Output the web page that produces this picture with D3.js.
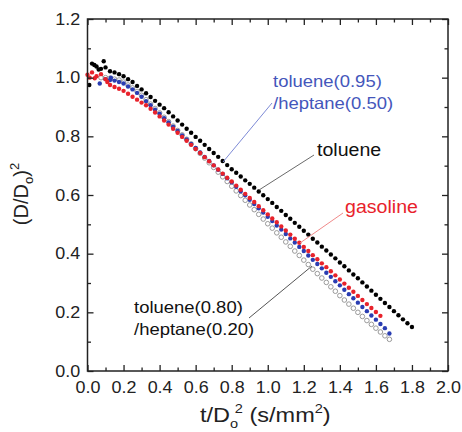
<!DOCTYPE html>
<html>
<head>
<meta charset="utf-8">
<script src="https://cdn.jsdelivr.net/npm/d3@7"></script>
<style>
  html, body { margin: 0; padding: 0; background: #fff; }
  svg { display: block; font-family: "Liberation Sans", Arial, sans-serif; }
</style>
</head>
<body>
<svg id="chart" width="462" height="432"></svg>
<script>
// Normalised time t/Do^2 (s/mm^2), shared sampling grid for all fuels
const tGrid = [
  0.000, 0.025, 0.050, 0.075, 0.100, 0.125, 0.150, 0.175, 0.200, 0.225,
  0.250, 0.275, 0.300, 0.325, 0.350, 0.375, 0.400, 0.425, 0.450, 0.475,
  0.500, 0.525, 0.550, 0.575, 0.600, 0.625, 0.650, 0.675, 0.700, 0.725,
  0.750, 0.775, 0.800, 0.825, 0.850, 0.875, 0.900, 0.925, 0.950, 0.975,
  1.000, 1.025, 1.050, 1.075, 1.100, 1.125, 1.150, 1.175, 1.200, 1.225,
  1.250, 1.275, 1.300, 1.325, 1.350, 1.375, 1.400, 1.425, 1.450, 1.475,
  1.500, 1.525, 1.550, 1.575, 1.600, 1.625, 1.650, 1.675, 1.700, 1.725,
  1.750, 1.775, 1.800
];

// (D/Do)^2 for each fuel on the grid above (null = no sample)
const toluene = [
  null, 1.048, 1.038, 1.030, 1.035, 1.022, 1.018, 1.012, 1.005, 0.995,
  0.985, 0.972, 0.960, 0.947, 0.934, 0.921, 0.908, 0.896, 0.882, 0.868,
  0.854, 0.840, 0.826, 0.812, 0.798, 0.785, 0.771, 0.757, 0.743, 0.730,
  0.716, 0.702, 0.688, 0.676, 0.663, 0.650, 0.638, 0.625, 0.612, 0.599,
  0.586, 0.573, 0.559, 0.546, 0.532, 0.519, 0.505, 0.492, 0.478, 0.465,
  0.451, 0.438, 0.424, 0.411, 0.397, 0.384, 0.370, 0.357, 0.343, 0.329,
  0.316, 0.302, 0.288, 0.274, 0.260, 0.246, 0.232, 0.218, 0.204, 0.190,
  0.176, 0.163, 0.150
];
const gasoline = [
  1.010, 1.018, 1.005, 1.012, 0.995, 0.975, 0.968, 0.962, 0.955, 0.945,
  0.935, 0.925, 0.915, 0.906, 0.894, 0.881, 0.868, 0.854, 0.840, 0.826,
  0.812, 0.798, 0.785, 0.771, 0.757, 0.743, 0.729, 0.715, 0.701, 0.687,
  0.673, 0.659, 0.646, 0.632, 0.618, 0.604, 0.590, 0.576, 0.562, 0.548,
  0.534, 0.520, 0.507, 0.493, 0.479, 0.465, 0.451, 0.437, 0.423, 0.409,
  0.395, 0.381, 0.367, 0.354, 0.340, 0.326, 0.312, 0.298, 0.284, 0.270,
  0.256, 0.242, 0.228, 0.215, 0.201, 0.188
];
const tol95hep50 = [
  null, null, null, null, 0.995, 0.992, 0.990, 0.985, 0.980, 0.970,
  0.960, 0.948, 0.935, 0.920, 0.906, 0.891, 0.877, 0.862, 0.847, 0.833,
  0.818, 0.803, 0.789, 0.774, 0.760, 0.745, 0.730, 0.716, 0.701, 0.686,
  0.672, 0.657, 0.643, 0.628, 0.613, 0.599, 0.584, 0.569, 0.555, 0.540,
  0.526, 0.511, 0.496, 0.482, 0.467, 0.452, 0.438, 0.423, 0.409, 0.394,
  0.379, 0.365, 0.350, 0.335, 0.321, 0.306, 0.292, 0.277, 0.262, 0.248,
  0.233, 0.218, 0.204, 0.189, 0.175, 0.160, 0.146, 0.128
];
const tol80hep20 = [
  null, null, null, 1.000, 1.000, 0.998, 0.995, 0.992, 0.985, 0.975,
  0.965, 0.953, 0.940, 0.925, 0.910, 0.895, 0.880, 0.865, 0.850, 0.835,
  0.820, 0.805, 0.790, 0.774, 0.758, 0.742, 0.726, 0.710, 0.694, 0.678,
  0.662, 0.646, 0.630, 0.614, 0.598, 0.582, 0.566, 0.550, 0.534, 0.518,
  0.502, 0.487, 0.471, 0.456, 0.440, 0.425, 0.409, 0.394, 0.378, 0.363,
  0.347, 0.332, 0.317, 0.302, 0.287, 0.272, 0.257, 0.242, 0.228, 0.214,
  0.200, 0.186, 0.172, 0.159, 0.146, 0.133, 0.120, 0.108
];

// Scattered readings at the very start of each run: [t, (D/Do)^2]
const tolueneStart  = [[0.010, 0.975], [0.038, 1.043], [0.062, 1.028], [0.090, 1.056]];
const gasolineStart = [[0.012, 1.000], [0.040, 0.998], [0.110, 0.985]];
const tol95Start    = [[0.068, 0.980], [0.130, 1.000]];

// Axis ticks
const xMajor = [0.0, 0.2, 0.4, 0.6, 0.8, 1.0, 1.2, 1.4, 1.6, 1.8, 2.0];
const xMinor = [0.1, 0.3, 0.5, 0.7, 0.9, 1.1, 1.3, 1.5, 1.7, 1.9];
const yMajor = [0.0, 0.2, 0.4, 0.6, 0.8, 1.0, 1.2];
const yMinor = [0.1, 0.3, 0.5, 0.7, 0.9, 1.1];

const svg = d3.select("#chart");
const plot = { left: 87.5, right: 448, top: 19, bottom: 371 };
const SX = 1.12; // horizontal text stretch of this figure

const x = d3.scaleLinear().domain([0, 2]).range([plot.left, plot.right]);
const y = d3.scaleLinear().domain([0, 1.2]).range([plot.bottom, plot.top]);

function pts(values, start) {
  return tGrid.map((t, i) => [t, values[i]])
    .filter(d => d[1] !== undefined && d[1] !== null)
    .concat(start || []);
}

const series = [
  { data: pts(tol80hep20), color: "#9a9a9a", open: true },
  { data: pts(tol95hep50, tol95Start), color: "#2a3db2", open: false },
  { data: pts(gasoline, gasolineStart), color: "#e8222b", open: false },
  { data: pts(toluene, tolueneStart), color: "#000000", open: false }
];

const marks = svg.append("g");
series.forEach(s => {
  marks.append("g").selectAll("circle").data(s.data).join("circle")
    .attr("cx", d => x(d[0]))
    .attr("cy", d => y(d[1]))
    .attr("r", s.open ? 2.3 : 2.2)
    .attr("fill", s.open ? "none" : s.color)
    .attr("stroke", s.open ? s.color : "none")
    .attr("stroke-width", s.open ? 1 : 0);
});

// Frame and inward ticks on all four sides
svg.append("rect")
  .attr("x", plot.left).attr("y", plot.top)
  .attr("width", plot.right - plot.left).attr("height", plot.bottom - plot.top)
  .attr("fill", "none").attr("stroke", "#222").attr("stroke-width", 1.5);

function styleAxis(g) {
  g.select(".domain").remove();
  g.selectAll("line").attr("stroke", "#222").attr("stroke-width", 1.3);
  g.selectAll("text").attr("fill", "#222").style("font-size", "16px")
    .style("font-family", "'Liberation Sans', Arial, sans-serif");
}

const fmt = d3.format(".1f");
const none = () => "";

svg.append("g").attr("transform", `translate(0,${plot.bottom})`)
  .call(d3.axisBottom(x).tickValues(xMajor).tickFormat(fmt).tickSize(-6).tickSizeOuter(0).tickPadding(11))
  .call(styleAxis)
  .selectAll("text").attr("transform", `scale(${SX},1)`);
svg.append("g").attr("transform", `translate(0,${plot.bottom})`)
  .call(d3.axisBottom(x).tickValues(xMinor).tickFormat(none).tickSize(-3.5).tickSizeOuter(0))
  .call(styleAxis);
svg.append("g").attr("transform", `translate(0,${plot.top})`)
  .call(d3.axisTop(x).tickValues(xMajor).tickFormat(none).tickSize(-6).tickSizeOuter(0))
  .call(styleAxis);
svg.append("g").attr("transform", `translate(0,${plot.top})`)
  .call(d3.axisTop(x).tickValues(xMinor).tickFormat(none).tickSize(-3.5).tickSizeOuter(0))
  .call(styleAxis);

svg.append("g").attr("transform", `translate(${plot.left},0)`)
  .call(d3.axisLeft(y).tickValues(yMajor).tickFormat(fmt).tickSize(-6).tickSizeOuter(0).tickPadding(6.5))
  .call(styleAxis)
  .selectAll("text").attr("transform", `scale(${SX},1)`);
svg.append("g").attr("transform", `translate(${plot.left},0)`)
  .call(d3.axisLeft(y).tickValues(yMinor).tickFormat(none).tickSize(-3.5).tickSizeOuter(0))
  .call(styleAxis);
svg.append("g").attr("transform", `translate(${plot.right},0)`)
  .call(d3.axisRight(y).tickValues(yMajor).tickFormat(none).tickSize(-6).tickSizeOuter(0))
  .call(styleAxis);
svg.append("g").attr("transform", `translate(${plot.right},0)`)
  .call(d3.axisRight(y).tickValues(yMinor).tickFormat(none).tickSize(-3.5).tickSizeOuter(0))
  .call(styleAxis);

// Axis titles
const xt = svg.append("text")
  .attr("transform", `translate(200,422) scale(${SX},1)`)
  .attr("fill", "#222").style("font-size", "21px");
xt.append("tspan").text("t/D");
xt.append("tspan").attr("dy", 6).style("font-size", "13px").text("o");
xt.append("tspan").attr("dx", -3).attr("dy", -15).style("font-size", "13px").text("2");
xt.append("tspan").attr("dy", 9).text("\u00a0(s/mm");
xt.append("tspan").attr("dy", -9).style("font-size", "13px").text("2");
xt.append("tspan").attr("dy", 9).text(")");

const yt = svg.append("text")
  .attr("transform", "translate(28,194) rotate(-90)")
  .attr("text-anchor", "middle")
  .attr("fill", "#222").style("font-size", "20px");
yt.append("tspan").text("(D/D");
yt.append("tspan").attr("dy", 5).style("font-size", "13px").text("o");
yt.append("tspan").attr("dy", -5).text(")");
yt.append("tspan").attr("dy", -9).style("font-size", "13px").text("2");

// Callout labels with leader lines
function leader(x1, y1, x2, y2, color) {
  svg.append("line").attr("x1", x1).attr("y1", y1).attr("x2", x2).attr("y2", y2)
    .attr("stroke", color).attr("stroke-width", 1);
}
function label(xp, yp, lines, size, color) {
  lines.forEach((s, i) => {
    svg.append("text")
      .attr("transform", `translate(${xp},${yp + i * 22}) scale(${SX},1)`)
      .attr("fill", color).style("font-size", size + "px").text(s);
  });
}

leader(272, 103, 223, 162, "#7d8ad6");
label(273, 87, ["toluene(0.95)", "/heptane(0.50)"], 16.5, "#4456bb");

leader(314, 155, 259, 190, "#6a6a6a");
label(317, 156, ["toluene"], 17.5, "#111");

leader(343, 213, 300, 243, "#f08a8a");
label(345, 213, ["gasoline"], 17.5, "#e8222b");

leader(249, 318, 312, 266, "#555");
label(134, 313, ["toluene(0.80)", "/heptane(0.20)"], 16.5, "#111");
</script>
</body>
</html>
